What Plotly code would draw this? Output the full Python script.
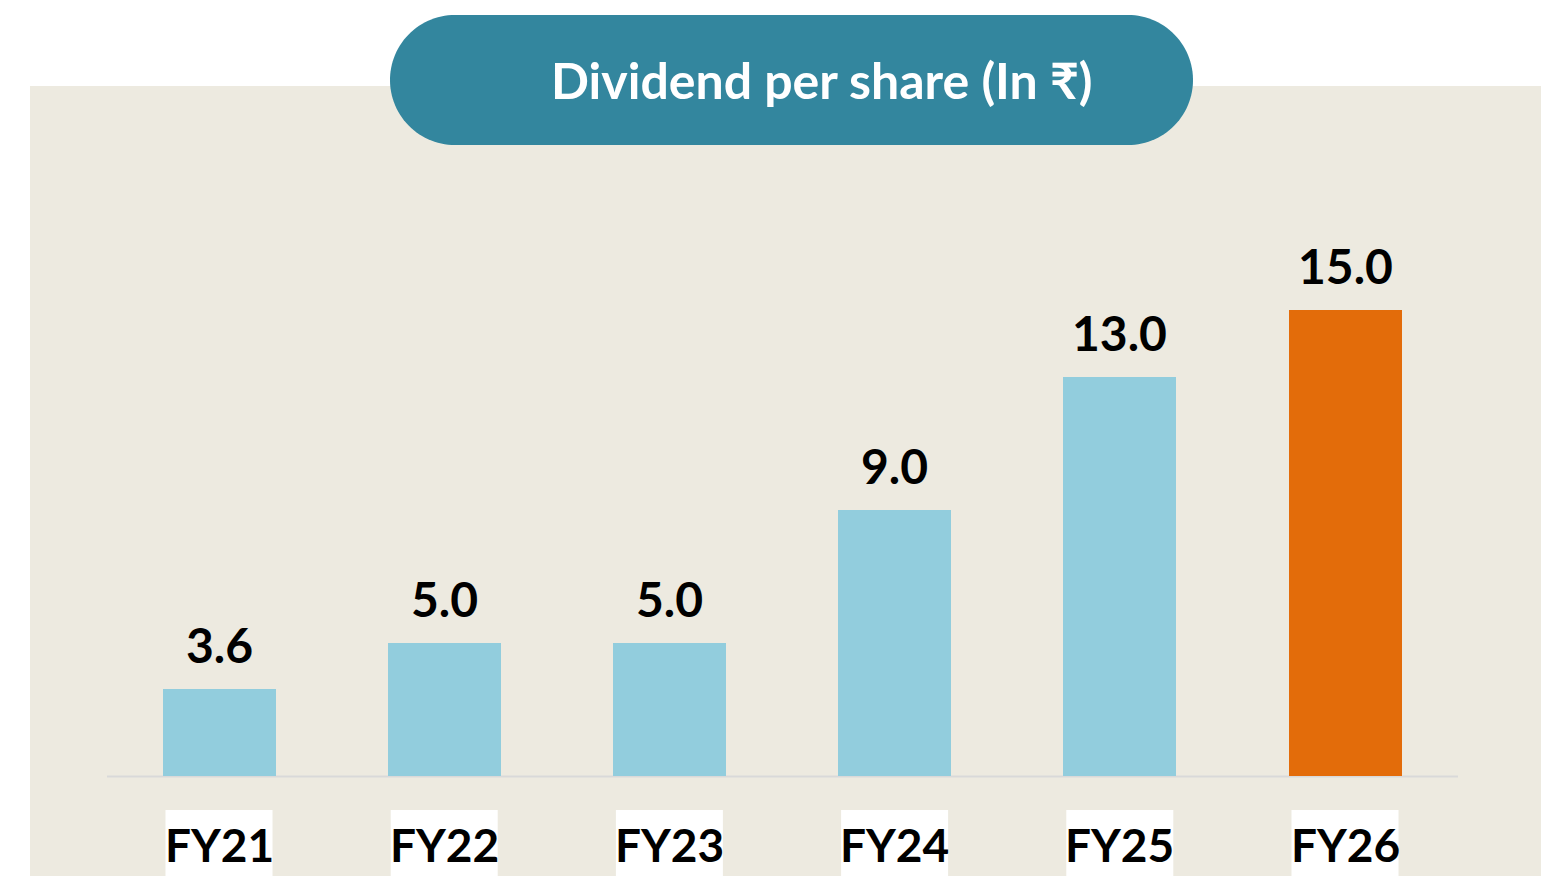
import numpy as np
import plotly.graph_objects as go

# ---- data ----
categories = ["FY21", "FY22", "FY23", "FY24", "FY25", "FY26"]
dividend = [3.6, 5.0, 5.0, 9.0, 13.0, 15.0]
value_labels = ["3.6", "5.0", "5.0", "9.0", "13.0", "15.0"]
title_text = "Dividend per share (In ₹)"

# ---- style ----
OFF = 8  # the page body margin offsets the figure by 8px
W, H = 1549 - OFF, 876 - OFF
PLOT_BOTTOM = 776 - OFF  # pixel row of the category baseline (figure coords)
BLUE = "#92CDDD"
ORANGE = "#E36C0A"
TEAL = "#33869E"
BEIGE = "#EDEAE0"
FONT = "Lato, 'Open Sans', 'DejaVu Sans', sans-serif"

bar_colors = [BLUE] * (len(categories) - 1) + [ORANGE]


def px(x):
    """reference-screen x pixel -> paper x"""
    return (x - OFF) / W


def py(y):
    """reference-screen y pixel -> paper y"""
    return (PLOT_BOTTOM - (y - OFF)) / PLOT_BOTTOM


# x axis: bar centres at screen x = 219 + 225.2*i
step = 225.2
x_lo = -(219 - OFF) / step
x_hi = x_lo + W / step
# y axis: baseline value 1.0 at the plot bottom, 15 at screen y 310
ppu = (776 - 310) / 14.0
y_lo = 1.0
y_hi = y_lo + PLOT_BOTTOM / ppu

xs = list(range(len(categories)))

fig = go.Figure()
fig.add_trace(go.Bar(
    x=xs, y=dividend, width=113 / step,
    marker=dict(color=bar_colors, line=dict(width=0)),
    hoverinfo="skip", showlegend=False,
))

shapes = []
# beige panel
shapes.append(dict(type="rect", xref="paper", yref="paper",
                   x0=px(30), x1=px(1546), y0=py(900), y1=py(86),
                   fillcolor=BEIGE, line=dict(width=0), layer="below"))
# baseline
shapes.append(dict(type="line", xref="paper", yref="paper",
                   x0=px(107), x1=px(1458), y0=py(776.5), y1=py(776.5),
                   line=dict(color="#D9D9D9", width=2), layer="below"))
# white boxes behind category labels
half = 107 / step / 2
for i in xs:
    shapes.append(dict(type="rect", xref="x", yref="paper",
                       x0=i - half, x1=i + half, y0=py(900), y1=py(810),
                       fillcolor="white", line=dict(width=0), layer="below"))

# title pill
x0p, x1p, y0p, y1p = 390, 1193, 15, 145
r = (y1p - y0p) / 2
cyp = (y0p + y1p) / 2
t = np.linspace(np.pi / 2, 3 * np.pi / 2, 60)
left = [(x0p + r + r * np.cos(a), cyp - r * np.sin(a)) for a in t]
t2 = np.linspace(-np.pi / 2, np.pi / 2, 60)
right = [(x1p - r + r * np.cos(a), cyp - r * np.sin(a)) for a in t2]
pts = left + right
path = "M " + " L ".join(f"{px(a):.6f},{py(b):.6f}" for a, b in pts) + " Z"
shapes.append(dict(type="path", xref="paper", yref="paper", path=path,
                   fillcolor=TEAL, line=dict(width=0), layer="above"))

annotations = []
annotations.append(dict(text=title_text, xref="paper", yref="paper",
                        x=px(822), y=py(80), xanchor="center", yanchor="middle",
                        showarrow=False,
                        font=dict(family=FONT, size=50, color="white", weight="bold")))
for i, v, lab in zip(xs, dividend, value_labels):
    annotations.append(dict(text=lab, x=i, y=v, xref="x", yref="y",
                            xanchor="center", yanchor="bottom", yshift=14,
                            showarrow=False,
                            font=dict(family=FONT, size=48, color="black", weight="bold")))
for i, c in zip(xs, categories):
    annotations.append(dict(text=c, x=i, y=py(844), xref="x", yref="paper",
                            xanchor="center", yanchor="middle",
                            showarrow=False,
                            font=dict(family=FONT, size=46, color="black", weight="bold")))

fig.update_layout(
    width=W, height=H,
    margin=dict(l=0, r=0, t=0, b=H - PLOT_BOTTOM, pad=0),
    paper_bgcolor="white", plot_bgcolor="rgba(0,0,0,0)",
    xaxis=dict(range=[x_lo, x_hi], showticklabels=False, showgrid=False,
               zeroline=False, showline=False, fixedrange=True),
    yaxis=dict(range=[y_lo, y_hi], showticklabels=False, showgrid=False,
               zeroline=False, showline=False, fixedrange=True),
    shapes=shapes, annotations=annotations,
    bargap=0,
)

fig.write_html("out.html", config={"displayModeBar": False})
